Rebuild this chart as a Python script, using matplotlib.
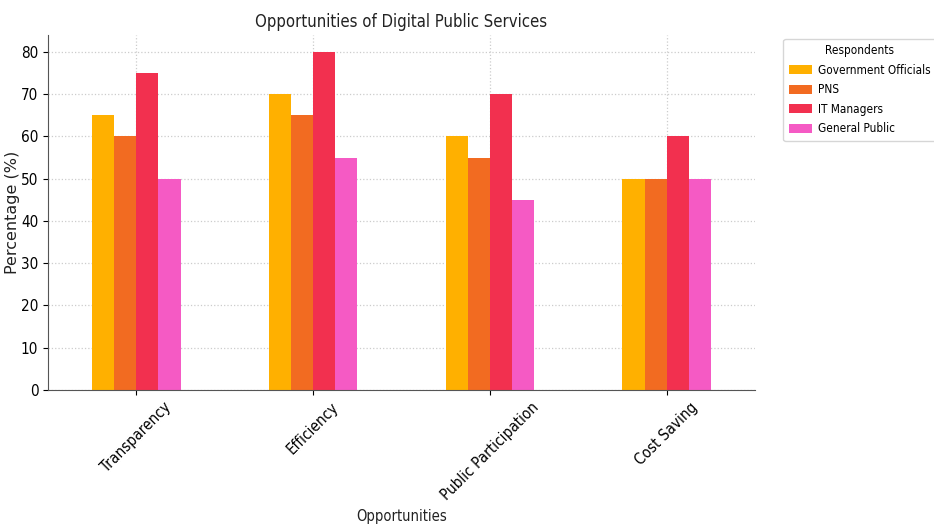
import numpy as np
import matplotlib
matplotlib.use("Agg")
import matplotlib.pyplot as plt

# Data
opportunities = ["Transparency", "Efficiency", "Public Participation", "Cost Saving"]
respondents = ["Government Officials", "PNS", "IT Managers", "General Public"]
gov_officials = [65, 70, 60, 50]
pns = [60, 65, 55, 50]
it_managers = [75, 80, 70, 60]
general_public = [50, 55, 45, 50]

colors = ["#FFB000", "#F26B21", "#F2304F", "#F55AC4"]

series = [gov_officials, pns, it_managers, general_public]

plt.rcParams["font.family"] = ["DejaVu Sans"]
plt.rcParams["font.stretch"] = "condensed"

fig = plt.figure(figsize=(9.34, 5.28), dpi=100)
ax = fig.add_axes([0.0514, 0.2614, 0.7570, 0.6723])

x = np.arange(len(opportunities))
bar_w = 0.5 / len(series)
for i, (vals, name) in enumerate(zip(series, respondents)):
    offset = (i - (len(series) - 1) / 2) * bar_w
    ax.bar(x + offset, vals, width=bar_w, color=colors[i], label=name, zorder=2)

ax.set_xlim(-0.5, len(opportunities) - 0.5)
ax.set_ylim(0, 84)
ax.set_xticks(x)
ax.set_xticklabels(opportunities, rotation=45, fontsize=11)
ax.tick_params(axis="y", labelsize=11)
ax.set_title("Opportunities of Digital Public Services", fontsize=12, color="#222222")
ax.set_xlabel("Opportunities", fontsize=10.5, color="#222222")
ax.set_ylabel("Percentage (%)", fontsize=11.5, color="#222222", labelpad=1,
              fontstretch="normal")
ax.grid(True, linestyle=":", color="#cccccc", linewidth=0.9, zorder=0)
ax.set_axisbelow(True)

for side in ["top", "right"]:
    ax.spines[side].set_visible(False)
for side in ["left", "bottom"]:
    ax.spines[side].set_color("#555555")

ax.legend(title="Respondents", bbox_to_anchor=(1.035, 1.0), loc="upper left",
          fontsize=8.5, title_fontsize=8.5, frameon=True, edgecolor="#cccccc",
          handlelength=1.9, handleheight=0.8, handletextpad=0.5, borderpad=0.5,
          labelspacing=0.55, borderaxespad=0.3)

fig.savefig("out.png", dpi=100)
